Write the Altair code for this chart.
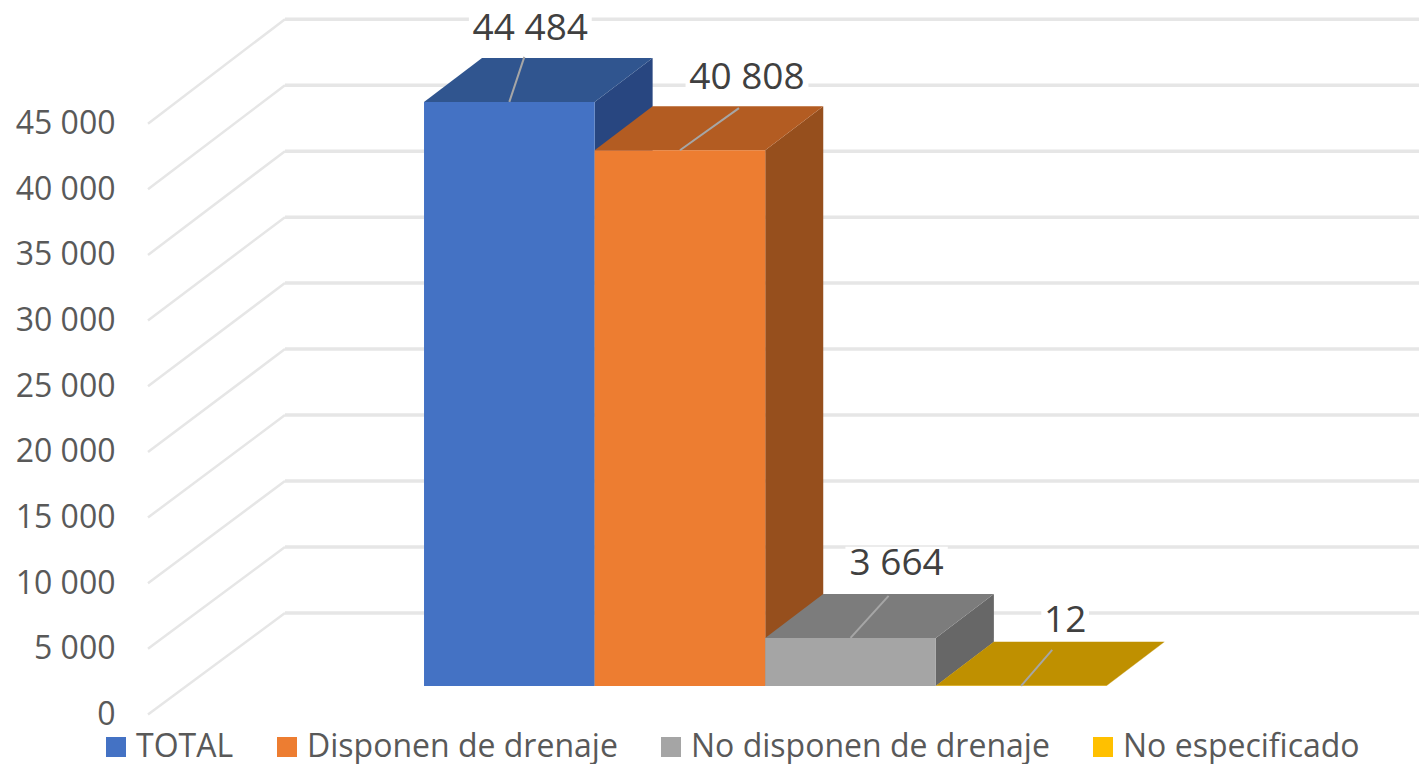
import altair as alt
import pandas as pd

# ---- values ----
categories = ["TOTAL", "Disponen de drenaje", "No disponen de drenaje", "No especificado"]
values = [44484, 40808, 3664, 12]
labels = ["44 484", "40 808", "3 664", "12"]
front_colors = ["#4472C4", "#ED7D31", "#A5A5A5", "#FFC000"]
top_colors = ["#30558F", "#B35C22", "#7C7C7C", "#BF9000"]
side_colors = ["#284680", "#964F1D", "#676767", "#BF9000"]
ticks = [0, 5000, 10000, 15000, 20000, 25000, 30000, 35000, 40000, 45000]

# ---- 3-D projection, in data units (x: one bar = 1, y: axis units) ----
DEPTH_X = 0.34          # bar depth to the right
DEPTH_Y = 3350          # bar depth upward
BASE_Y = 2170           # bars stand above the axis zero
WALL_X0 = -1.618        # front edge of the side wall
WALL_X1 = -0.815        # back edge of the side wall
WALL_Y = 7730
WALL_K = 1.005
# leader line end and text position relative to the middle of each bar's top edge
leader_dx = [0.088, 0.346, 0.223, 0.182]
leader_dy = [3430, 3200, 3200, 2740]
text_dx = [0.123, 0.393, 0.27, 0.258]
text_dy = [5560, 5480, 5640, 4950]
text_half_w = [0.36, 0.36, 0.30, 0.14]
text_half_h = 1300

X_MIN, X_MAX = -1.782, 5.832
Y_MIN, Y_MAX = -3770, 53808

xs = alt.Scale(domain=[X_MIN, X_MAX], nice=False, zero=False)
ys = alt.Scale(domain=[Y_MIN, Y_MAX], nice=False, zero=False)
y_axis = alt.Axis(
    values=ticks,
    title=None,
    grid=False,
    domain=False,
    ticks=False,
    labelPadding=5,
    labelFont="Open Sans",
    labelFontSize=32,
    labelColor="#595959",
    labelExpr="replace(format(datum.value, ','), ',', ' ')",
)
X = alt.X("x:Q", scale=xs, axis=None)
Y = alt.Y("y:Q", scale=ys, axis=y_axis)

layers = []

# wall gridlines and their oblique part
grid = pd.DataFrame(
    {
        "x": [WALL_X0] * len(ticks),
        "x2": [WALL_X1] * len(ticks),
        "y": ticks,
        "y2": [t * WALL_K + WALL_Y for t in ticks],
        "x3": [X_MAX] * len(ticks),
    }
)
layers.append(
    alt.Chart(grid)
    .mark_rule(color="#E6E6E6", strokeWidth=2.5)
    .encode(x=X, x2="x2:Q", y=Y, y2="y2:Q")
)
layers.append(
    alt.Chart(grid)
    .mark_rule(color="#E6E6E6", strokeWidth=3.5)
    .encode(x=alt.X("x2:Q", scale=xs, axis=None), x2="x3:Q", y=alt.Y("y2:Q", scale=ys, axis=y_axis))
)

# side and top faces, left to right
for i, v in enumerate(values):
    top = v + BASE_Y
    side = pd.DataFrame(
        {
            "x": [i + 1, i + 1 + DEPTH_X],
            "y": [top, top + DEPTH_Y],
            "y2": [BASE_Y, BASE_Y + DEPTH_Y],
        }
    )
    cap = pd.DataFrame(
        {
            "y": [top, top + DEPTH_Y],
            "x": [i, i + DEPTH_X],
            "x2": [i + 1, i + 1 + DEPTH_X],
        }
    )
    layers.append(
        alt.Chart(side).mark_area(color=side_colors[i], orient="vertical").encode(x=X, y=Y, y2="y2:Q")
    )
    layers.append(
        alt.Chart(cap).mark_area(color=top_colors[i], orient="horizontal").encode(y=Y, x=X, x2="x2:Q")
    )

# front faces, carrying the legend
front = pd.DataFrame(
    {
        "cat": categories,
        "x": [i for i in range(len(values))],
        "x2": [i + 1 for i in range(len(values))],
        "y": [v + BASE_Y for v in values],
        "y2": [BASE_Y] * len(values),
    }
)
layers.append(
    alt.Chart(front)
    .mark_rect()
    .encode(
        x=X,
        x2="x2:Q",
        y=Y,
        y2="y2:Q",
        color=alt.Color(
            "cat:N",
            sort=categories,
            scale=alt.Scale(domain=categories, range=front_colors),
            legend=alt.Legend(
                title=None,
                orient="none",
                legendX=-20,
                legendY=723,
                direction="horizontal",
                columns=4,
                symbolType="square",
                symbolSize=400,
                symbolStrokeWidth=0,
                labelFont="Open Sans",
                labelFontSize=32,
                labelColor="#595959",
                labelLimit=500,
                labelOffset=4,
                columnPadding=37,
                gridAlign="each",
            ),
        ),
    )
)

# leader lines and data labels
mids = [i + 0.5 for i in range(len(values))]
leaders = pd.DataFrame(
    {
        "x": mids,
        "x2": [m + d for m, d in zip(mids, leader_dx)],
        "y": [v + BASE_Y for v in values],
        "y2": [v + BASE_Y + d for v, d in zip(values, leader_dy)],
    }
)
layers.append(
    alt.Chart(leaders).mark_rule(color="#A6A6A6", strokeWidth=2).encode(x=X, x2="x2:Q", y=Y, y2="y2:Q")
)
texts = pd.DataFrame(
    {
        "x": [m + d for m, d in zip(mids, text_dx)],
        "y": [v + BASE_Y + d for v, d in zip(values, text_dy)],
        "t": labels,
    }
)
texts["x0"] = texts["x"] - text_half_w
texts["x1"] = texts["x"] + text_half_w
texts["y0"] = texts["y"] - text_half_h
texts["y1"] = texts["y"] + text_half_h
layers.append(
    alt.Chart(texts)
    .mark_rect(color="white")
    .encode(x=alt.X("x0:Q", scale=xs, axis=None), x2="x1:Q", y=alt.Y("y0:Q", scale=ys, axis=y_axis), y2="y1:Q")
)
layers.append(
    alt.Chart(texts)
    .mark_text(font="Open Sans", fontSize=37, color="#404040", align="center", baseline="middle")
    .encode(x=X, y=Y, text="t:N")
)

chart = (
    alt.layer(*layers)
    .properties(
        width=1299,
        height=756,
        padding={"left": 112, "top": 0, "right": 0, "bottom": 0},
        autosize=alt.AutoSizeParams(type="none"),
    )
    .configure_view(stroke=None)
)
chart.save("out.html", embed_options={"renderer": "svg", "actions": False})
